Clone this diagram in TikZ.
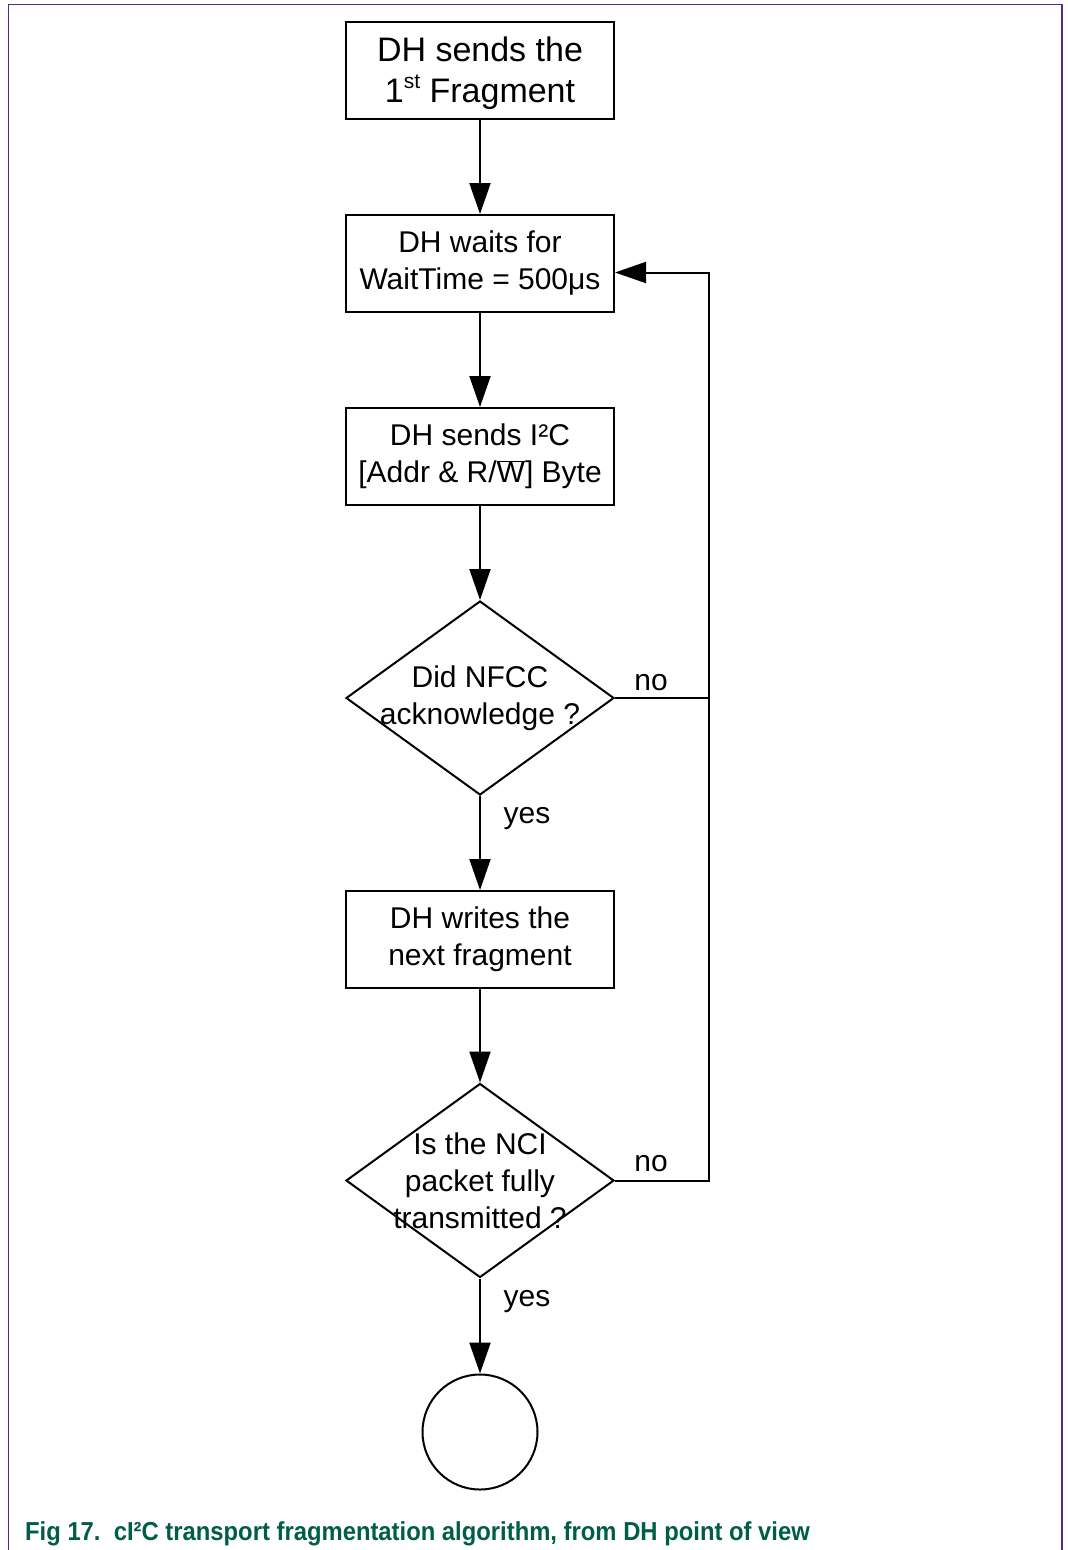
\documentclass[tikz,border=0pt]{standalone}
\usepackage{fontspec}
\setmainfont{Liberation Sans}
\usetikzlibrary{arrows.meta,shapes.geometric,calc}
\definecolor{framepurple}{RGB}{88,40,140}
\definecolor{capgreen}{RGB}{0,94,70}
\begin{document}
\begin{tikzpicture}[x=1pt,y=-1pt,
  every node/.style={font=\fontsize{30}{37}\selectfont},
  procbox/.style={draw,line width=2pt,minimum width=268pt,minimum height=97pt,inner sep=0pt,align=center},
  decshape/.style={draw,line width=2pt,diamond,minimum width=268pt,minimum height=194pt,inner sep=0pt},
  dectext/.style={align=center,inner sep=0pt},
  conn/.style={line width=2pt},
  arr/.style={line width=2pt,-{Triangle[length=31pt,width=21pt]}},
  lbl/.style={anchor=base,inner sep=0pt}]
\useasboundingbox (0,0) rectangle (1068,1550);
% frame
\draw[framepurple,line width=1.2pt] (8.5,1560) -- (8.5,4.5) -- (1062,4.5) -- (1062,1560);
% nodes
\node[procbox] (b1) at (480,70.5) {};
\node[dectext,font=\fontsize{34}{41}\selectfont] (b1t) at (480,73.5) {DH sends the\\1\raisebox{0.42em}{\fontsize{21}{21}\selectfont st} Fragment};
\node[procbox] (b2) at (480,263.5) {DH waits for\\WaitTime = 500μs};
\node[procbox] (b3) at (480,456.5) {DH sends I²C\\{}[Addr \& R/$\overline{\mbox{W}}$] Byte};
\node[decshape] (d1) at (480,698) {};
\node[dectext] (d1t) at (480,698) {Did NFCC\\acknowledge ?};
\node[procbox] (b4) at (480,939.5) {DH writes the\\next fragment};
\node[decshape] (d2) at (480,1180.5) {};
\node[dectext] (d2t) at (480,1180.5) {Is the NCI\\packet fully\\transmitted ?};
\node[draw,circle,line width=2pt,minimum size=115pt,inner sep=0pt] (end) at (480,1432) {};
\coordinate (j1) at (709,698);
\coordinate (j2) at (709,1180.5);
% connectors
\draw[arr] (b1.south) -- (b2.north);
\draw[arr] (b2.south) -- (b3.north);
\draw[arr] (b3.south) -- (d1.north);
\draw[arr] (d1.south) -- (b4.north);
\draw[arr] (b4.south) -- (d2.north);
\draw[arr] (d2.south) -- (end.north);
\draw[arr] (d1.east) -- (j1) |- ([yshift=-9pt]b2.east);
\draw[conn] (d2.east) -- (j2) -- (j1);
% labels
\node[lbl] (n1) at (651,690) {no};
\node[lbl] (y1) at (527,823) {yes};
\node[lbl] (n2) at (651,1171) {no};
\node[lbl] (y2) at (527,1306) {yes};
% caption
\node[anchor=base west,inner sep=0pt,text=capgreen,xscale=0.916,font=\fontsize{26}{30}\selectfont\bfseries] (cap) at (25,1540.5) {Fig 17.\ \ cI²C transport fragmentation algorithm, from DH point of view};
\end{tikzpicture}
\end{document}
